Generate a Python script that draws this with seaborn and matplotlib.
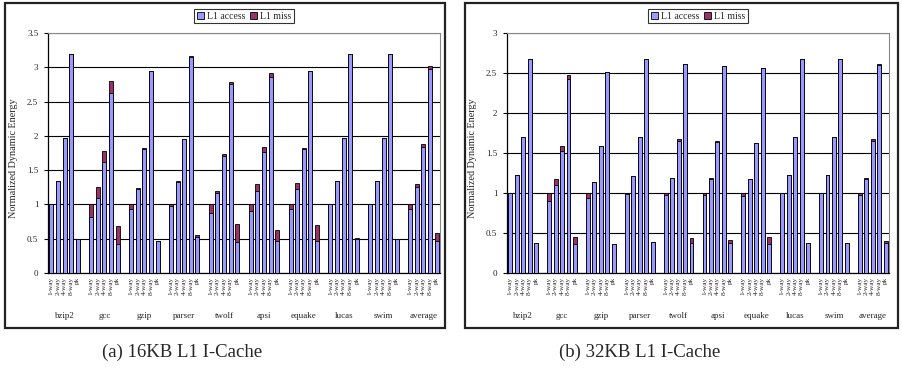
import numpy as np
import pandas as pd
import matplotlib
matplotlib.use("Agg")
import matplotlib.pyplot as plt
from matplotlib.patches import Rectangle
from matplotlib.transforms import blended_transform_factory
import seaborn as sns

benchmarks = ["bzip2", "gcc", "gzip", "parser", "twolf", "apsi", "equake", "lucas", "swim", "average"]
configs = ["1-way", "2-way", "4-way", "8-way", "pk"]

# 16KB L1 I-Cache: L1 access part and total (access + miss)
access_16 = [
    [1.00, 1.34, 1.97, 3.20, 0.50],
    [0.82, 1.10, 1.62, 2.62, 0.43],
    [0.93, 1.23, 1.81, 2.94, 0.47],
    [0.98, 1.32, 1.95, 3.15, 0.53],
    [0.87, 1.16, 1.71, 2.76, 0.45],
    [0.90, 1.20, 1.76, 2.86, 0.46],
    [0.93, 1.23, 1.81, 2.94, 0.47],
    [1.00, 1.34, 1.97, 3.20, 0.50],
    [1.00, 1.34, 1.97, 3.20, 0.50],
    [0.94, 1.26, 1.84, 2.98, 0.47],
]
total_16 = [
    [1.00, 1.34, 1.97, 3.20, 0.50],
    [1.00, 1.26, 1.78, 2.80, 0.69],
    [1.00, 1.24, 1.82, 2.95, 0.47],
    [1.00, 1.34, 1.96, 3.17, 0.55],
    [1.00, 1.19, 1.73, 2.78, 0.72],
    [1.00, 1.30, 1.84, 2.92, 0.62],
    [1.00, 1.31, 1.83, 2.95, 0.70],
    [1.00, 1.34, 1.97, 3.20, 0.51],
    [1.00, 1.34, 1.97, 3.20, 0.50],
    [1.00, 1.30, 1.88, 3.02, 0.58],
]
# 32KB L1 I-Cache
access_32 = [
    [1.00, 1.22, 1.70, 2.68, 0.38],
    [0.90, 1.10, 1.53, 2.42, 0.36],
    [0.94, 1.14, 1.59, 2.51, 0.36],
    [0.99, 1.21, 1.70, 2.67, 0.39],
    [0.97, 1.19, 1.65, 2.61, 0.37],
    [0.97, 1.18, 1.64, 2.59, 0.37],
    [0.96, 1.17, 1.63, 2.56, 0.36],
    [1.00, 1.22, 1.70, 2.68, 0.38],
    [1.00, 1.22, 1.70, 2.68, 0.37],
    [0.97, 1.18, 1.65, 2.60, 0.37],
]
total_32 = [
    [1.00, 1.22, 1.70, 2.68, 0.38],
    [1.00, 1.17, 1.59, 2.47, 0.45],
    [1.00, 1.14, 1.59, 2.51, 0.36],
    [1.00, 1.21, 1.70, 2.67, 0.39],
    [1.00, 1.19, 1.67, 2.61, 0.44],
    [1.00, 1.19, 1.65, 2.59, 0.41],
    [1.00, 1.17, 1.63, 2.56, 0.45],
    [1.00, 1.22, 1.70, 2.68, 0.38],
    [1.00, 1.22, 1.70, 2.68, 0.37],
    [1.00, 1.19, 1.67, 2.61, 0.40],
]

yticks_16 = [0, 0.5, 1, 1.5, 2, 2.5, 3, 3.5]
yticks_32 = [0, 0.5, 1, 1.5, 2, 2.5, 3]
captions = ["(a) 16KB L1 I-Cache", "(b) 32KB L1 I-Cache"]

ACCESS_C = "#9999FF"
MISS_C = "#993366"

sns.set_theme(style="white")
plt.rcParams["font.family"] = ["Liberation Serif", "DejaVu Serif"]

W, H = 903, 374
fig = plt.figure(figsize=(W / 100, H / 100), dpi=100)
fig.patch.set_facecolor("white")


def make_df(access, total):
    rows = []
    for g, b in enumerate(benchmarks):
        for j, c in enumerate(configs):
            rows.append(dict(bench=b, config=c, pos=g * 6 + j,
                             access=access[g][j], total=total[g][j]))
    return pd.DataFrame(rows)


panels = [
    dict(df=make_df(access_16, total_16), ax=(48, 33, 440, 273), box=(5, 3, 445, 328),
         yticks=yticks_16, ymax=3.5, cap=captions[0], capx=182),
    dict(df=make_df(access_32, total_32), ax=(507, 33, 889, 273), box=(465, 3, 898, 328),
         yticks=yticks_32, ymax=3.0, cap=captions[1], capx=640),
]

for p in panels:
    x0, y0, x1, y1 = p["box"]
    fig.patches.append(Rectangle((x0 / W, 1 - y1 / H), (x1 - x0) / W, (y1 - y0) / H,
                                 transform=fig.transFigure, fill=False,
                                 edgecolor="#222222", linewidth=1.6, zorder=0))
    l, t, r, b = p["ax"]
    ax = fig.add_axes([l / W, 1 - b / H, (r - l) / W, (b - t) / H])
    df = p["df"]
    sns.barplot(data=df, x="pos", y="total", native_scale=True, color=MISS_C,
                saturation=1, edgecolor="black", linewidth=0.6, width=0.6,
                errorbar=None, ax=ax, zorder=3)
    sns.barplot(data=df, x="pos", y="access", native_scale=True, color=ACCESS_C,
                saturation=1, edgecolor="black", linewidth=0.6, width=0.6,
                errorbar=None, ax=ax, zorder=4)
    ax.set_xlim(-0.5, 58.5)
    ax.set_ylim(0, p["ymax"])
    ax.set_yticks(p["yticks"])
    ax.set_yticklabels([f"{v:g}" for v in p["yticks"]], fontsize=6.5)
    ax.yaxis.grid(True, color="black", linewidth=0.8, zorder=1)
    ax.set_axisbelow(True)
    ax.tick_params(axis="y", left=True, length=3, width=0.8, color="black", pad=4)
    ax.set_xticks(df["pos"].tolist())
    ax.set_xticklabels(df["config"].tolist(), rotation=90, fontsize=5.2)
    ax.tick_params(axis="x", bottom=False, length=0, pad=3)
    ax.set_xlabel("")
    ax.set_ylabel("Normalized Dynamic Energy", fontsize=7.3)
    ax.yaxis.set_label_coords(-30 / (r - l), 0.48)
    for s in ["top", "right"]:
        ax.spines[s].set_color("#888888")
        ax.spines[s].set_linewidth(0.8)
    for s in ["left", "bottom"]:
        ax.spines[s].set_color("black")
        ax.spines[s].set_linewidth(0.9)
    tr = blended_transform_factory(ax.transData, ax.transAxes)
    for g, bname in enumerate(benchmarks):
        ax.text(g * 6 + 2, -43 / 240, bname, transform=tr, ha="center", va="center",
                fontsize=6.5)
    # legend
    handles = [Rectangle((0, 0), 1, 1, facecolor=ACCESS_C, edgecolor="black", linewidth=0.6),
               Rectangle((0, 0), 1, 1, facecolor=MISS_C, edgecolor="black", linewidth=0.6)]
    leg = ax.legend(handles, ["L1 access", "L1 miss"], loc="lower center",
                    bbox_to_anchor=(0.5, 1.04), ncol=2, fontsize=7, frameon=True,
                    fancybox=False, edgecolor="black", handlelength=0.8, handleheight=0.8,
                    handletextpad=0.3, columnspacing=0.4, borderpad=0.25, borderaxespad=0)
    leg.get_frame().set_linewidth(0.8)
    fig.text(p["capx"] / W, 1 - 352 / H, p["cap"], ha="center", va="center", fontsize=13.5)

fig.savefig("out.png", dpi=100, facecolor="white")
